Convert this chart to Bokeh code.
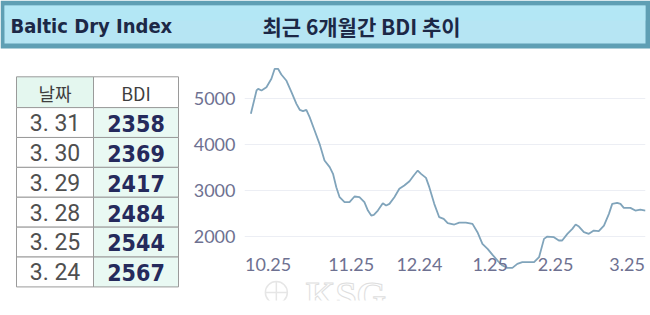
from bokeh.plotting import figure
from bokeh.layouts import column, row
from bokeh.models import Range1d, Label, FixedTicker
from bokeh.core.properties import value
from bokeh.embed import file_html
from bokeh.resources import INLINE

# ---------------- data ----------------
title_en = "Baltic Dry Index"
title_ko = "최근 6개월간 BDI 추이"

table_dates = ["3. 31", "3. 30", "3. 29", "3. 28", "3. 25", "3. 24"]
table_bdi = ["2358", "2369", "2417", "2484", "2544", "2567"]
table_headers = ["날짜", "BDI"]

# day offsets relative to 10.25 and BDI values
xday = [-7.3, -4.9, -4.2, -2.8, -0.7, 1.4, 2.8, 4.2, 5.6, 7.7, 9.9, 12.0, 13.4, 14.8,
        16.2, 17.6, 19.7, 21.8, 23.9, 26.1, 27.5, 28.9, 30.3, 32.4, 34.5, 36.6, 38.7,
        40.8, 42.3, 43.7, 44.8, 46.5, 48.6, 50.0, 51.4, 53.5, 55.6, 57.7, 59.9, 61.7,
        63.4, 64.8, 66.9, 68.3, 70.4, 72.5, 74.4, 76.1, 78.9, 81.0, 83.8, 86.6, 88.7,
        90.8, 93.0, 95.1, 97.2, 99.3, 101.4, 103.5, 105.6, 107.7, 109.9, 112.7, 114.8,
        116.9, 118.3, 121.1, 123.2, 124.6, 126.8, 128.9, 130.3, 131.7, 133.8, 135.9,
        138.0, 140.1, 142.3, 144.4, 145.8, 147.9, 149.3, 150.7, 153.5, 155.6, 157.7, 159.9]
bdi = [4661, 5168, 5204, 5168, 5240, 5422, 5640, 5640, 5516, 5386, 5132, 4878, 4748, 4719,
       4748, 4588, 4298, 4008, 3646, 3501, 3356, 3066, 2848, 2740, 2740, 2863, 2848,
       2740, 2558, 2450, 2464, 2558, 2718, 2667, 2703, 2848, 3030, 3102, 3196, 3320,
       3428, 3356, 3269, 3066, 2703, 2413, 2377, 2283, 2254, 2297, 2297, 2268, 2087,
       1833, 1724, 1594, 1471, 1362, 1311, 1311, 1398, 1435, 1435, 1435, 1543,
       1942, 1993, 1978, 1906, 1906, 2051, 2160, 2254, 2210, 2087, 2051,
       2123, 2109, 2232, 2486, 2703, 2725, 2703, 2616, 2616, 2558, 2580, 2558]

x_tick_pos = [0, 35.2, 64.1, 94.1, 121.8, 152.1]
x_tick_labels = ["10.25", "11.25", "12.24", "1.25", "2.25", "3.25"]
y_ticks = [2000, 3000, 4000, 5000]

COND = "DejaVu Sans Condensed, Roboto, sans-serif"

# ---------------- header ----------------
hdr = figure(width=650, height=50, x_range=Range1d(0, 650), y_range=Range1d(50, 0),
             output_backend="svg", toolbar_location=None, min_border=0)
hdr.axis.visible = False
hdr.grid.visible = False
hdr.outline_line_color = None
hdr.background_fill_color = "white"
hdr.quad(left=[0], right=[650], top=[0], bottom=[48], fill_color="#5f9fb4", line_color=None)
hdr.quad(left=[4], right=[645], top=[5], bottom=[43], fill_color="#b6e5f3", line_color=None)
hdr.quad(left=[4], right=[645], top=[5], bottom=[20], fill_color="#b0e8f6", line_color=None, fill_alpha=0.6)
hdr.text(x=[10], y=[25], text=[title_en], text_font=value(COND),
         text_font_style="bold", text_font_size="20px", text_color="#1c2846",
         text_baseline="middle", text_align="left")
hdr.text(x=[262], y=[25], text=[title_ko], text_font=value("Noto Sans CJK KR"),
         text_font_style="bold", text_font_size="21px", text_color="#1c2846",
         text_baseline="middle", text_align="left")

# ---------------- table ----------------
tbl = figure(width=190, height=265, x_range=Range1d(0, 190), y_range=Range1d(265, 0),
             output_backend="svg", toolbar_location=None, min_border=0)
tbl.axis.visible = False
tbl.grid.visible = False
tbl.outline_line_color = None

x0, x1, x2 = 16, 93, 178
top = 18
hh = 34
rh = 33
n = len(table_dates)
row_tops = [top + hh + i * rh for i in range(n)]
row_bots = [t + rh for t in row_tops]
tbl.quad(left=[x0, x1], right=[x1, x2], top=[top, top], bottom=[top + hh, top + hh],
         fill_color=["#e4f7ef", "#ffffff"], line_color="#9a9a9a", line_width=1)
tbl.quad(left=[x0] * n, right=[x1] * n, top=row_tops, bottom=row_bots,
         fill_color="#ffffff", line_color="#9a9a9a", line_width=1)
tbl.quad(left=[x1] * n, right=[x2] * n, top=row_tops, bottom=row_bots,
         fill_color="#e9f9f3", line_color="#9a9a9a", line_width=1)
tbl.text(x=[(x0 + x1) / 2, (x1 + x2) / 2], y=[top + hh / 2 + 1] * 2, text=table_headers,
         text_font=value("Noto Sans CJK KR"), text_font_size="18px", text_color="#3e3e3e",
         text_align="center", text_baseline="middle")
tbl.text(x=[(x0 + x1) / 2] * n, y=[t + rh / 2 + 1 for t in row_tops], text=table_dates,
         text_font=value("Roboto"), text_font_size="23px", text_color="#4f4f4f",
         text_align="center", text_baseline="middle")
tbl.text(x=[(x1 + x2) / 2] * n, y=[t + rh / 2 + 1 for t in row_tops], text=table_bdi,
         text_font=value(COND), text_font_style="bold",
         text_font_size="23px", text_color="#252a5c",
         text_align="center", text_baseline="middle")

# ---------------- chart ----------------
p = figure(width=460, height=265, x_range=Range1d(-10, 159.9), y_range=Range1d(602, 5820),
           output_backend="svg", toolbar_location=None,
           min_border_left=53, min_border_right=5, min_border_top=10, min_border_bottom=15)
p.outline_line_color = None
p.xgrid.visible = False
p.ygrid.grid_line_color = "#eceef4"
p.ygrid.grid_line_width = 1
p.yaxis.ticker = FixedTicker(ticks=y_ticks)
p.xaxis.ticker = FixedTicker(ticks=x_tick_pos)
p.xaxis.major_label_overrides = {t: l for t, l in zip(x_tick_pos, x_tick_labels)}
for ax in (p.xaxis[0], p.yaxis[0]):
    ax.axis_line_color = None
    ax.major_tick_line_color = None
    ax.minor_tick_line_color = None
    ax.major_label_text_color = "#6e7191"
    ax.major_label_text_font = "Lato"
    ax.major_label_text_font_size = "18px"
p.yaxis.major_label_standoff = 3
p.xaxis.major_label_standoff = -49

# watermark
p.scatter(x=[3.5], y=[776], marker="circle_cross", size=22, fill_color=None,
          line_color="#e6e6e6", line_width=1.5)
p.add_layout(Label(x=16.0, y=720, text="KSG", text_font="Liberation Serif",
                   text_font_style="bold", text_font_size="38px", text_color="#ffffff",
                   text_baseline="middle", text_align="left",
                   text_outline_color="#dedede"))

p.line(x=xday, y=bdi, line_color="#80a4bb", line_width=1.8)

layout = column(hdr, row(tbl, p, spacing=0), spacing=0)
open("out.html", "w").write(file_html(layout, INLINE))
